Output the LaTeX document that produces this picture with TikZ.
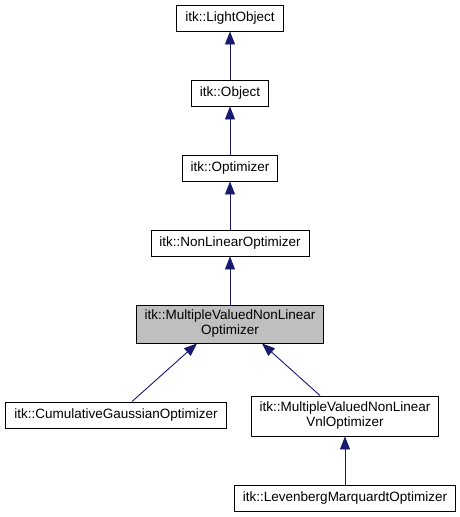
\documentclass[tikz,border=0pt]{standalone}
\usepackage{fontspec}
\setmainfont{Liberation Sans}
\usetikzlibrary{arrows.meta}
\definecolor{edgeblue}{RGB}{25,25,112}
\definecolor{hilite}{RGB}{191,191,191}

\begin{document}
\begin{tikzpicture}[x=1pt,y=-1pt,
  cls/.style={draw=black,fill=white,line width=0.9pt,inner xsep=8.5pt,inner ysep=2pt,
    minimum height=26pt,align=center,font=\fontsize{13.5}{15}\selectfont},
  inh/.style={draw=edgeblue,line width=0.9pt,-{Triangle[length=13pt,width=10pt]}}]
\useasboundingbox (0,0) rectangle (460,517);
%%%% levels
\pgfmathsetmacro{\midx}{230}
\pgfmathsetmacro{\rightx}{345}
%%%% base classes
\node[cls] (lightobj) at (\midx,18) {itk::LightObject};
\node[cls] (object) at (\midx,93) {itk::Object};
\node[cls] (optimizer) at (\midx,168) {itk::Optimizer};
\node[cls] (nonlinear) at (\midx,243) {itk::NonLinearOptimizer};
%%%% the class itself
\node[cls,fill=hilite,minimum height=38pt] (mvnl) at (\midx,324)
  {itk::MultipleValuedNonLinear\\Optimizer};
%%%% derived classes
\node[cls] (cumgauss) at (116,415) {itk::CumulativeGaussianOptimizer};
\node[cls,minimum height=40pt] (mvnlvnl) at (\rightx,416)
  {itk::MultipleValuedNonLinear\\VnlOptimizer};
\node[cls] (levmar) at (\rightx,498) {itk::LevenbergMarquardtOptimizer};
%%%% inheritance arrows
\draw[inh] (object) -- (lightobj);
\draw[inh] (optimizer) -- (object);
\draw[inh] (nonlinear) -- (optimizer);
\draw[inh] (mvnl) -- (nonlinear);
\draw[inh] ([xshift=16pt]cumgauss.north) -- ([xshift=-33pt]mvnl.south);
\draw[inh] ([xshift=-25pt]mvnlvnl.north) -- ([xshift=32pt]mvnl.south);
\draw[inh] (levmar) -- (mvnlvnl);
\end{tikzpicture}
\end{document}
